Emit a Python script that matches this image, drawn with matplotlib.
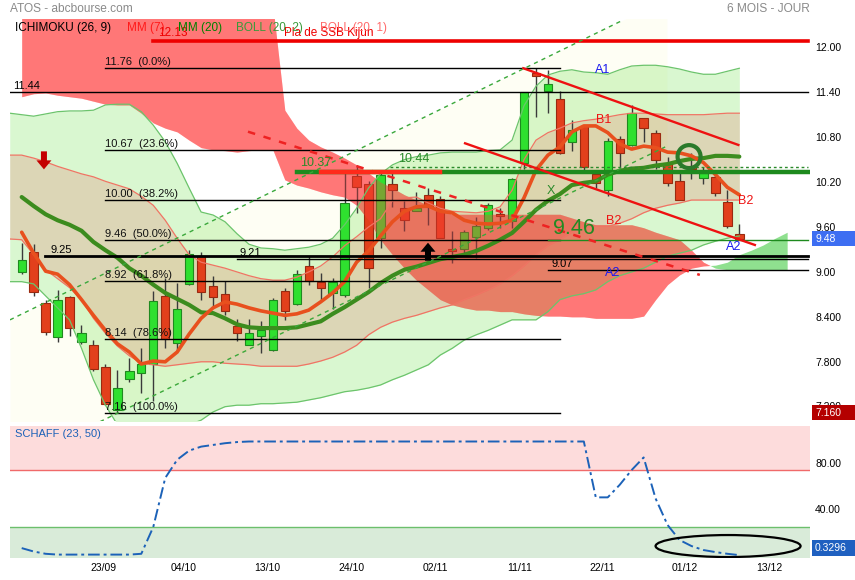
import matplotlib
matplotlib.use('Agg')
import matplotlib.pyplot as plt
import numpy as np
import matplotlib.transforms as mtransforms
from matplotlib.patches import Rectangle, Polygon, Ellipse, Circle

plt.rcParams['font.family'] = ['Liberation Sans', 'DejaVu Sans']

# ---------------- data ----------------
opens  = [9.04, 9.30, 8.63, 8.17, 8.70, 8.10, 8.07, 7.77, 7.19, 7.61, 7.69, 7.81, 8.72, 8.09, 8.88, 9.25, 8.85, 8.75, 8.32, 8.07,
          8.19, 8.00, 8.79, 8.61, 9.12, 8.90, 8.76, 8.73, 10.32, 10.21, 9.49, 10.22, 9.89, 9.86, 10.07, 10.01, 9.34, 9.34, 9.50, 9.63,
          9.81, 9.72, 10.49, 11.70, 11.45, 11.35, 10.78, 10.99, 10.35, 10.13, 10.81, 10.74, 11.09, 10.89, 10.50, 10.25, 10.46, 10.30, 10.31, 9.97,
          9.55]
highs  = [9.43, 9.41, 8.66, 8.80, 8.72, 8.33, 8.13, 7.81, 7.73, 7.89, 8.02, 8.78, 8.96, 8.89, 9.33, 9.30, 8.98, 8.92, 8.41, 8.41,
          8.39, 8.69, 8.82, 9.07, 9.25, 9.03, 8.96, 10.40, 10.47, 10.25, 10.38, 10.38, 9.99, 10.11, 10.16, 10.05, 9.58, 9.60, 9.78, 9.96,
          9.89, 10.29, 11.44, 11.76, 11.74, 11.46, 11.07, 10.99, 10.38, 10.83, 10.85, 11.27, 11.09, 10.94, 10.57, 10.36, 10.63, 10.44, 10.34, 10.13,
          9.68]
lows   = [9.01, 8.72, 8.20, 8.10, 8.18, 8.08, 7.72, 7.26, 7.16, 7.57, 7.42, 7.31, 8.03, 8.00, 8.86, 8.66, 8.58, 8.47, 8.12, 8.06,
          7.96, 7.98, 8.40, 8.60, 8.87, 8.67, 8.55, 8.70, 9.83, 8.82, 9.36, 9.91, 9.58, 9.85, 9.67, 9.49, 9.16, 9.29, 9.22, 9.60,
          9.62, 9.62, 10.42, 11.11, 11.16, 10.62, 10.65, 10.38, 10.16, 10.05, 10.41, 10.72, 10.78, 10.42, 10.19, 10.00, 10.28, 10.22, 10.05, 9.62,
          9.48]
closes = [9.20, 8.77, 8.24, 8.67, 8.29, 8.23, 7.74, 7.28, 7.49, 7.72, 7.81, 8.65, 8.15, 8.55, 9.28, 8.77, 8.70, 8.52, 8.23, 8.23,
          8.27, 8.67, 8.52, 9.01, 8.92, 8.82, 8.91, 9.96, 10.17, 9.09, 10.34, 10.14, 9.73, 9.89, 9.91, 9.49, 9.32, 9.57, 9.65, 9.93,
          9.79, 10.28, 11.44, 11.66, 11.55, 10.63, 10.94, 10.44, 10.23, 10.79, 10.63, 11.16, 10.96, 10.54, 10.23, 10.00, 10.41, 10.36, 10.10, 9.65,
          9.48]

mm7  = [9.57, 9.29, 9.05, 9.01, 8.87, 8.67, 8.46, 8.26, 8.08, 7.97, 7.81, 7.85, 7.84, 7.97, 8.21, 8.42, 8.56, 8.64, 8.61, 8.56,
        8.52, 8.49, 8.46, 8.48, 8.53, 8.64, 8.76, 8.91, 9.17, 9.32, 9.52, 9.71, 9.85, 9.91, 9.92, 9.85, 9.83, 9.73, 9.69, 9.68,
        9.69, 9.73, 10.03, 10.40, 10.60, 10.71, 10.91, 10.99, 10.99, 10.90, 10.75, 10.68, 10.72, 10.70, 10.64, 10.63, 10.59, 10.50, 10.34, 10.17,
        10.07]
mm20 = [10.04, 9.92, 9.81, 9.73, 9.67, 9.59, 9.44, 9.33, 9.23, 9.09, 8.99, 8.87, 8.76, 8.68, 8.60, 8.50, 8.49, 8.42, 8.34, 8.30,
        8.29, 8.29, 8.29, 8.30, 8.34, 8.38, 8.48, 8.57, 8.67, 8.77, 8.89, 8.99, 9.07, 9.11, 9.16, 9.21, 9.24, 9.27, 9.32, 9.39,
        9.47, 9.56, 9.71, 9.87, 9.99, 10.08, 10.20, 10.23, 10.25, 10.34, 10.39, 10.42, 10.43, 10.46, 10.48, 10.52, 10.55, 10.56, 10.59, 10.59,
        10.58]

# Bollinger bands, first value is one bar before the first candle
boll2_up  = [11.16, 11.14, 11.12, 11.15, 11.18, 11.19, 11.19, 11.20, 11.27, 11.28, 11.28, 11.18, 11.00, 10.78, 10.49, 10.16, 9.84, 9.80, 9.71, 9.55,
             9.41, 9.36, 9.35, 9.33, 9.35, 9.37, 9.41, 9.49, 9.67, 9.89, 10.16, 10.35, 10.47, 10.54, 10.58, 10.60, 10.63, 10.64, 10.64, 10.64,
             10.66, 10.67, 10.80, 11.26, 11.52, 11.67, 11.72, 11.74, 11.71, 11.70, 11.68, 11.74, 11.79, 11.80, 11.80, 11.78, 11.75, 11.71, 11.68, 11.68,
             11.72, 11.76]
boll2_low = [8.91, 8.91, 8.88, 8.72, 8.56, 8.40, 8.02, 7.60, 7.26, 7.00, 6.93, 6.90, 6.90, 6.93, 6.96, 7.00, 7.06, 7.17, 7.24, 7.26,
             7.26, 7.28, 7.28, 7.29, 7.30, 7.33, 7.36, 7.40, 7.44, 7.46, 7.49, 7.53, 7.60, 7.66, 7.73, 7.80, 7.93, 8.02, 8.13, 8.20,
             8.26, 8.33, 8.40, 8.40, 8.40, 8.51, 8.67, 8.72, 8.75, 8.80, 8.91, 8.99, 9.04, 9.09, 9.17, 9.25, 9.29, 9.33, 9.40, 9.45,
             9.49, 9.52]
boll1_up  = [10.60, 10.60, 10.56, 10.51, 10.45, 10.40, 10.35, 10.31, 10.25, 10.20, 10.15, 10.05, 9.93, 9.73, 9.49, 9.27, 9.17, 9.13, 9.09, 9.04,
             8.99, 8.95, 8.93, 8.93, 8.97, 9.04, 9.12, 9.24, 9.39, 9.51, 9.64, 9.75, 9.99, 10.03, 10.04, 9.96, 9.89, 9.85, 9.84, 9.83,
             9.85, 9.91, 10.13, 10.54, 10.80, 10.90, 10.96, 11.03, 11.06, 11.08, 11.11, 11.14, 11.16, 11.16, 11.15, 11.14, 11.14, 11.14, 11.14, 11.15,
             11.16, 11.16]
boll1_low = [9.48, 9.47, 9.27, 9.07, 8.95, 8.83, 8.67, 8.42, 8.22, 8.05, 7.92, 7.82, 7.80, 7.78, 7.80, 7.82, 7.84, 7.84, 7.82, 7.81,
             7.80, 7.78, 7.78, 7.78, 7.78, 7.81, 7.85, 7.90, 7.97, 8.06, 8.20, 8.30, 8.37, 8.42, 8.46, 8.51, 8.56, 8.60, 8.67, 8.73,
             8.80, 8.88, 8.99, 9.12, 9.27, 9.39, 9.47, 9.57, 9.64, 9.65, 9.65, 9.69, 9.75, 9.83, 9.89, 9.93, 9.96, 10.00, 10.00, 10.00,
             10.00, 10.00]

# Ichimoku cloud spans (leading spans), 65 bars
ssa = [11.38, 11.42, 11.43, 11.40, 11.38, 11.36, 11.32, 11.28, 11.27, 11.27, 11.16, 11.03, 10.96, 10.91, 10.80, 10.70, 10.67, 10.66, 10.64, 10.66,
       10.67, 10.67, 10.27, 10.20, 10.16, 10.11, 10.07, 10.04, 9.93, 9.73, 9.47, 9.27, 9.09, 8.93, 8.80, 8.67, 8.60, 8.56, 8.53, 8.53,
       8.51, 8.51, 8.48, 8.46, 8.45, 8.45, 8.44, 8.44, 8.42, 8.42, 8.42, 8.42, 8.45, 8.67, 8.87, 9.00, 9.09, 9.12, 9.13, 9.17,
       9.27, 9.33, 9.40, 9.49, 9.57]
ssb = [12.60, 12.60, 12.60, 12.60, 12.60, 12.60, 12.60, 12.60, 12.60, 12.60, 12.60, 12.60, 12.60, 12.60, 12.60, 12.60, 12.60, 12.60, 12.60, 12.60,
       12.60, 12.60, 11.20, 10.96, 10.80, 10.71, 10.64, 10.56, 10.47, 10.36, 10.24, 10.16, 10.07, 10.00, 9.93, 9.87, 9.81, 9.81, 9.81, 9.81,
       9.81, 9.81, 9.81, 9.81, 9.81, 9.81, 9.76, 9.71, 9.67, 9.67, 9.67, 9.67, 9.63, 9.57, 9.52, 9.47, 9.33, 9.17, 9.09, 9.07,
       9.07, 9.07, 9.07, 9.07, 9.07]

schaff = [6.5, 3.5, 1.5, 0.8, 0.8, 0.8, 0.8, 0.8, 0.8, 0.8, 1.5, 25.0, 68.0, 84.0, 92.0, 95.5, 97.0, 98.5, 99.5, 100.0,
          100.0, 100.0, 100.0, 100.0, 100.0, 100.0, 100.0, 100.0, 100.0, 100.0, 100.0, 100.0, 100.0, 100.0, 100.0, 100.0, 100.0, 100.0, 100.0, 100.0,
          100.0, 100.0, 100.0, 100.0, 100.0, 100.0, 100.0, 100.0, 51.0, 51.0, 62.0, 75.0, 86.0, 50.0, 26.8, 13.6, 8.3, 4.8, 3.0, 1.5,
          0.3296]

date_labels = ['23/09', '04/10', '13/10', '24/10', '02/11', '11/11', '22/11', '01/12', '13/12']

fib_levels = [11.76, 10.67, 10.00, 9.46, 8.92, 8.14, 7.16]
fib_pcts = ['0.0%', '23.6%', '38.2%', '50.0%', '61.8%', '78.6%', '100.0%']

price_ticks = [12.00, 11.40, 10.80, 10.20, 9.60, 9.00, 8.40, 7.80, 7.20]
price_tick_labels = ['12.00', '11.40', '10.80', '10.20', '9.60', '9.00', '8.400', '7.800', '7.200']
schaff_ticks = [80, 40]
schaff_tick_labels = ['80.00', '40.00']

last_close = 9.48
lowest_low = 7.16
last_schaff = 0.3296

# horizontal levels drawn by the user
level_1144 = 11.44
level_925 = 9.25
level_921 = 9.21
level_907 = 9.07
level_1213 = 12.13
level_1037 = 10.37
level_1044 = 10.44
level_946 = 9.46

# trend lines (bar index, price) pairs
red_channel_up = [(41.94, 11.76), (59.92, 10.736)]
red_channel_low = [(37.07, 10.758), (61.3, 9.40)]
red_dash_line = [(18.92, 10.913), (56.7, 9.00)]
green_dash_up = [(-0.98, 8.40), (50.3, 12.405)]
green_dash_low = [(6.55, 7.04), (53.8, 10.709)]

# ---------------- figure ----------------
W, H = 855, 580
fig = plt.figure(figsize=(W / 100, H / 100), dpi=100)
fig.patch.set_facecolor('white')

def fx(px):
    return px / W

def fy(py):
    return 1 - py / H

ax = fig.add_axes([fx(10), fy(421), 800 / W, (421 - 19) / H])
sx = fig.add_axes([fx(10), fy(558), 800 / W, (558 - 426) / H])

XMIN, XMAX = -0.978, 65.91
ax.set_xlim(XMIN, XMAX)
ax.set_ylim(7.049, 12.418)
sx.set_xlim(XMIN, XMAX)
sx.set_ylim(-2.19, 113.6)
for a in (ax, sx):
    a.set_axis_off()

n = len(closes)
xc = np.arange(n)
xb = np.arange(-1, n)
xk = np.arange(len(ssa))

# ivory channel area
gu = np.array(green_dash_up)
gl = np.array(green_dash_low)
xs = np.linspace(XMIN, 53.95, 200)
slope_u = (gu[1, 1] - gu[0, 1]) / (gu[1, 0] - gu[0, 0])
slope_l = (gl[1, 1] - gl[0, 1]) / (gl[1, 0] - gl[0, 0])
up_line = gu[0, 1] + slope_u * (xs - gu[0, 0])
lo_line = gl[0, 1] + slope_l * (xs - gl[0, 0])
ax.fill_between(xs, lo_line, up_line, color='#fefef4', lw=0, zorder=0.5)

# Ichimoku cloud (base layer)
ssa_a = np.array(ssa)
ssb_a = np.array(ssb)
ax.fill_between(xk, ssa_a, ssb_a, where=ssb_a >= ssa_a, interpolate=True,
                color='#ff9898', lw=0, zorder=0.8)
ax.fill_between(xk, ssa_a, ssb_a, where=ssa_a > ssb_a, interpolate=True,
                color='#8fe08f', lw=0, zorder=0.8)

# Bollinger fills
ax.fill_between(xb, boll2_low, boll2_up, color='#41d714', alpha=0.2, lw=0, zorder=1)
ax.fill_between(xb, boll1_low, boll1_up, color='#ed524e', alpha=0.2, lw=0, zorder=1.1)

# candles
for i in range(n):
    o, h, l, c = opens[i], highs[i], lows[i], closes[i]
    up = c >= o
    ax.plot([i, i], [l, h], color='#3a3a3a', lw=1, zorder=2, solid_capstyle='butt')
    body_lo = min(o, c)
    body_h = max(abs(c - o), 0.02)
    ax.add_patch(Rectangle((i - 0.35, body_lo), 0.7, body_h,
                           facecolor='#2fe02f' if up else '#e2401c',
                           edgecolor='#1f8a1f' if up else '#9a2a10', lw=0.8, zorder=2.2))

# cloud overlay (tints candles)
ax.fill_between(xk, ssa_a, ssb_a, where=ssb_a >= ssa_a, interpolate=True,
                color='#ff3c3c', alpha=0.35, lw=0, zorder=2.5)

# bollinger lines
ax.plot(xb, boll2_up, color='#6cc46c', lw=0.9, zorder=3)
ax.plot(xb, boll2_low, color='#6cc46c', lw=0.9, zorder=3)
ax.plot(xb, boll1_up, color='#f07464', lw=0.9, zorder=3)
ax.plot(xb, boll1_low, color='#f07464', lw=0.9, zorder=3)

# moving averages
ax.plot(xc, mm20, color='#3c8c1e', lw=3, zorder=4, solid_capstyle='round')
ax.plot(xc, mm7, color='#e8501e', lw=2.6, zorder=4.1, solid_capstyle='round')

# fibonacci lines
FIB_X0, FIB_X1 = 6.96, 45.0
for lev, pct in zip(fib_levels, fib_pcts):
    ax.plot([FIB_X0, FIB_X1], [lev, lev], color='black', lw=1, zorder=5)
    ax.text(FIB_X0, lev + 0.015, f'{lev:.2f}  ({pct})', fontsize=8, va='bottom', ha='left',
            color='#111111', zorder=6)

RIGHT = 65.75
ax.plot([XMIN, RIGHT], [level_1144] * 2, color='black', lw=1, zorder=5)
ax.text(-0.73, level_1144 + 0.015, f'{level_1144:.2f}', fontsize=8, va='bottom', zorder=6)
ax.plot([1.95, RIGHT], [level_925] * 2, color='black', lw=2, zorder=5)
ax.text(2.37, level_925 + 0.02, f'{level_925:.2f}', fontsize=8, va='bottom', zorder=6)
ax.plot([18.0, RIGHT], [level_921] * 2, color='black', lw=1, zorder=5)
ax.text(18.25, level_921 + 0.015, f'{level_921:.2f}', fontsize=8, va='bottom', zorder=6)
ax.plot([44.0, RIGHT], [level_907] * 2, color='black', lw=1, zorder=5)
ax.text(44.3, level_907 + 0.015, f'{level_907:.2f}', fontsize=8, va='bottom', zorder=6)
ax.plot([11.0, RIGHT], [level_1213] * 2, color='#ee0000', lw=2.6, zorder=5)
ax.text(11.4, level_1213 + 0.02, f'{level_1213:.2f}', fontsize=8.5, va='bottom', color='#ee0000', zorder=6)
ax.text(21.93, level_1213 + 0.02, 'Pla de SSB Kijun', fontsize=8.5, va='bottom', color='#ee0000', zorder=6)
ax.plot([23.0, RIGHT], [level_1037] * 2, color='#1e8a1e', lw=3.2, zorder=5)
ax.plot([25.0, 35.0], [level_1037] * 2, color='#ff2a1a', lw=3.2, zorder=5.1)
ax.text(23.27, level_1037 + 0.04, f'{level_1037:.2f}', fontsize=9, va='bottom', color='#2a8a2a', zorder=6)
ax.plot([30.8, RIGHT], [level_1044] * 2, color='#2a8a2a', lw=1, ls=(0, (2, 2)), zorder=5)
ax.text(31.5, level_1044 + 0.03, f'{level_1044:.2f}', fontsize=9, va='bottom', color='#2a8a2a', zorder=6)
ax.plot([44.0, RIGHT], [level_946] * 2, color='#1e8a1e', lw=1, zorder=5)
ax.text(44.4, level_946 + 0.02, f'{level_946:.2f}', fontsize=15.5, va='bottom', color='#238a23', zorder=6)

def seg(pts, **kw):
    (x0, y0), (x1, y1) = pts
    ax.plot([x0, x1], [y0, y1], **kw)

seg(red_channel_up, color='#ee1111', lw=1.7, zorder=5)
seg(red_channel_low, color='#ee1111', lw=1.7, zorder=5)
seg(red_dash_line, color='#ee2222', lw=1.8, ls=(0, (3, 3.5)), zorder=5)
seg(green_dash_up, color='#3aa83a', lw=1, ls=(0, (3, 3)), zorder=5)
seg(green_dash_low, color='#3aa83a', lw=1, ls=(0, (3, 3)), zorder=5)

for (xi, yp, s, col) in [(48.6, 11.74, 'A1', '#1a1aee'), (48.7, 11.07, 'B1', '#ee1111'),
                         (49.5, 9.72, 'B2', '#ee1111'), (60.56, 9.99, 'B2', '#ee1111'),
                         (59.5, 9.37, 'A2', '#1a1aee'), (49.4, 9.02, 'A2', '#1a1aee'),
                         (44.26, 10.12, 'X', '#2a8a2a')]:
    ax.text(xi, yp, s, fontsize=9, color=col, ha='center', va='center', zorder=6)

def at(xd, yd, axis=ax):
    return fig.dpi_scale_trans + mtransforms.ScaledTranslation(xd, yd, axis.transData)

down_arrow = np.array([(-3, 9), (3, 9), (3, 0), (7.5, 0), (0, -9), (-7.5, 0), (-3, 0)]) / 100
ax.add_patch(Polygon(down_arrow, closed=True, facecolor='#c40000', edgecolor='none',
                     transform=at(1.86, 10.53), zorder=6))
up_arrow = down_arrow * np.array([1, -1])
ax.add_patch(Polygon(up_arrow, closed=True, facecolor='black', edgecolor='none',
                     transform=at(33.97, 9.31), zorder=6))
ax.add_patch(Circle((0, 0), 0.115, facecolor='none', edgecolor='#2a7a2a', lw=3,
                    transform=at(55.8, 10.58), zorder=6))

tr = mtransforms.blended_transform_factory(ax.transAxes, ax.transData)
for v, s in zip(price_ticks, price_tick_labels):
    ax.text(1 + 5 / 800, v + 0.03, s, transform=tr, fontsize=7.5, va='center', ha='left',
            clip_on=False, zorder=6)
ax.add_patch(Rectangle((1 + 2 / 800, last_close - 0.1), 45 / 800, 0.2, transform=tr,
                       facecolor='#3d6ef2', edgecolor='none', clip_on=False, zorder=7))
ax.text(1 + 5 / 800, last_close, f'{last_close:.2f}', transform=tr, fontsize=7.5, va='center',
        color='white', clip_on=False, zorder=8)
ax.add_patch(Rectangle((1 + 2 / 800, lowest_low - 0.1), 45 / 800, 0.2, transform=tr,
                       facecolor='#b40000', edgecolor='none', clip_on=False, zorder=7))
ax.text(1 + 5 / 800, lowest_low, f'{lowest_low:.3f}', transform=tr, fontsize=7.5, va='center',
        color='white', clip_on=False, zorder=8)

# ---------------- Schaff panel ----------------
sx.axhspan(75, 113.6, color='#fddcdc', lw=0, zorder=0)
sx.axhspan(-2.19, 25, color='#d9ebd9', lw=0, zorder=0)
sx.axhline(75, color='#f06a6a', lw=1, zorder=1)
sx.axhline(25, color='#6cbf6c', lw=1, zorder=1)
sx.plot(np.arange(len(schaff)), schaff, color='#1c62b8', lw=1.4, ls=(0, (6, 2, 1.5, 2)), zorder=3)
sx.text(0.5 / 800 + 0.006, 0.94, 'SCHAFF (23, 50)', transform=sx.transAxes, fontsize=8,
        color='#1c62b8', va='center', ha='left')
trs = mtransforms.blended_transform_factory(sx.transAxes, sx.transData)
for v, s in zip(schaff_ticks, schaff_tick_labels):
    sx.text(1 + 5 / 800, v, s, transform=trs, fontsize=7.5, va='center', ha='left', clip_on=False)
sx.add_patch(Rectangle((1 + 2 / 800, last_schaff - 0.5), 45 / 800, 13.5, transform=trs,
                       facecolor='#1f60c0', edgecolor='none', clip_on=False, zorder=7))
sx.text(1 + 5 / 800, last_schaff + 6.3, f'{last_schaff:.4f}', transform=trs, fontsize=7.5,
        va='center', color='white', clip_on=False, zorder=8)
sx.add_patch(Ellipse((0, 0), 1.45, 0.22, facecolor='none', edgecolor='black', lw=1.6,
                     transform=at(59.06, 8.3, sx), zorder=6))

tick_pos = [6.85, 13.57, 20.5, 27.6, 34.6, 41.6, 48.5, 55.4, 62.5]
trd = mtransforms.blended_transform_factory(sx.transData, sx.transAxes)
for p, s in zip(tick_pos, date_labels):
    sx.text(p, -(568 - 558) / 132, s, transform=trd, fontsize=7.5, ha='center', va='center',
            clip_on=False)

# ---------------- header ----------------
fig.text(fx(10), fy(9), 'ATOS - abcbourse.com', fontsize=8.6, color='#8a8a8a', va='center', ha='left')
fig.text(fx(810), fy(9), '6 MOIS - JOUR', fontsize=8.6, color='#8a8a8a', va='center', ha='right')
for px, s, col in [(15, 'ICHIMOKU (26, 9)', 'black'), (127, 'MM (7)', '#ff1a1a'),
                   (178, 'MM (20)', '#008000'), (236, 'BOLL (20, 2)', '#3a9a3a'),
                   (320, 'BOLL (20, 1)', '#ff6a6a')]:
    fig.text(fx(px), fy(28), s, fontsize=8.5, color=col, va='center', ha='left', zorder=1)

fig.savefig('out.png', dpi=100)
